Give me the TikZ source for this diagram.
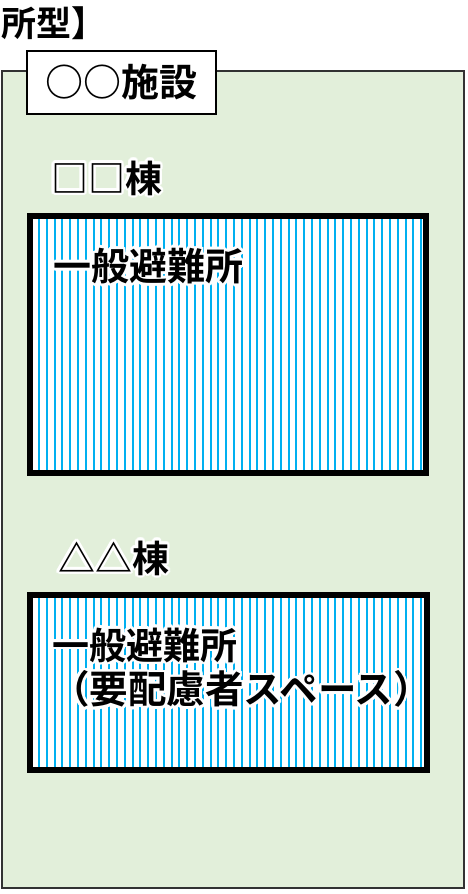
\documentclass[tikz,border=0pt]{standalone}
\usepackage{fontspec}
\setmainfont{Noto Sans CJK JP}[BoldFont={* Bold}]
\usetikzlibrary{calc}
\definecolor{bggreen}{RGB}{226,239,218}
\definecolor{stripeblue}{RGB}{0,176,240}
\definecolor{framegray}{RGB}{50,50,50}
\tikzset{
  txt/.style={anchor=west, inner sep=0pt, font=\bfseries},
  stripeline/.style={draw=stripeblue, line width=2pt},
  hallbox/.style={draw=black, line width=6pt},
  outerbox/.style={draw=framegray, fill=bggreen, line width=2.5pt},
  titlebox/.style={draw=black, fill=white, line width=1.5pt},
}
\newcommand\glowtxt[4]{%
  \foreach \a in {0,22.5,...,337.5}{%
    \node[txt, white] at ($(#2)+(\a:2.6)$) {\fontsize{#3}{#3}\selectfont #4};}
  \node[txt] (#1) at (#2) {\fontsize{#3}{#3}\selectfont #4};}
\newcommand\stripes[4]{%
  \fill[white] (#1,#2) rectangle (#3,#4);
  \begin{scope}
    \clip (#1,#2) rectangle (#3,#4);
    \foreach \xx in {39,46.8,...,430}{\draw[stripeline] (\xx,#2) -- (\xx,#4);}
  \end{scope}}
\begin{document}
\begin{tikzpicture}[x=1pt,y=-1pt]
\useasboundingbox (0,0) rectangle (468,894);
% heading (cut at left edge)
\node[txt, anchor=east] (heading) at (107,23) {\fontsize{35}{35}\selectfont 避難所型】};
% outer facility box
\draw[outerbox] (2,71) rectangle (464,888);
\node[titlebox, minimum width=189pt, minimum height=63pt, anchor=north west, inner sep=0pt] (titlebox) at (26,50) {};
\node[txt] (title) at (45,82) {\fontsize{38}{38}\selectfont ○○施設};
% building 1
\coordinate (b1lab) at (51,178);
\glowtxt{bldg1}{b1lab}{37}{□□棟}
\stripes{30}{216}{426}{473}
\draw[hallbox] (30,216) rectangle (426,473);
\coordinate (h1) at (53,266);
\glowtxt{hall1}{h1}{38}{一般避難所}
% building 2
\coordinate (b2lab) at (58,558);
\glowtxt{bldg2}{b2lab}{37}{△△棟}
\stripes{30}{595}{427}{770}
\draw[hallbox] (30,595) rectangle (427,770);
\coordinate (h2) at (52,645);
\glowtxt{hall2}{h2}{37}{一般避難所}
\coordinate (h3) at (51,689);
\glowtxt{hall3}{h3}{38.5}{（要配慮者スペース）}
\end{tikzpicture}
\end{document}
